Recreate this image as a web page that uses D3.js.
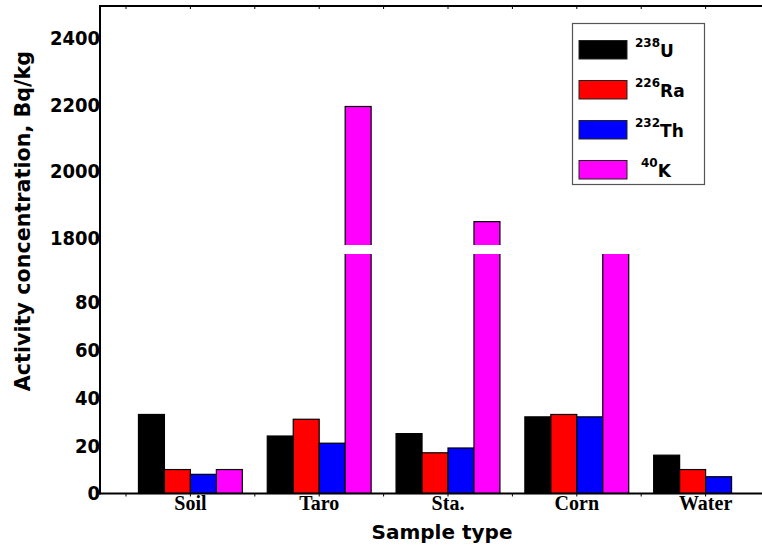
<!DOCTYPE html>
<html>
<head>
<meta charset="utf-8">
<script src="https://cdn.jsdelivr.net/npm/d3@7"></script>
<style>
  body { margin: 0; background: #fff; }
  svg { display: block; }
</style>
</head>
<body>
<svg id="chart" width="762" height="551"></svg>
<script>
// sample groups and isotope series
const categories = ["Soil", "Taro", "Sta.", "Corn", "Water"];
const isoMass = ["238", "226", "232", "40"];
const isoName = ["U", "Ra", "Th", "K"];
const u238 = [33, 24, 25, 32, 16];
const ra226 = [10, 31, 17, 33, 10];
const th232 = [8, 21, 19, 32, 7];
const k40 = [10, 2195, 1850, 1700, null];
const lowTicks = [0, 20, 40, 60, 80];
const highTicks = [1800, 2000, 2200, 2400];

const colors = ["#000000", "#ff0000", "#0000ff", "#ff00ff"];
const seriesVals = [u238, ra226, th232, k40];

let svg = d3.select("#chart");

// axis box
const plotL = 100, plotR = 762, plotT = 6, plotB = 493.5;

// x scales
let x = d3.scaleBand().domain(categories).range([126, 770]);
let xSub = d3.scaleBand().domain(d3.range(4)).range([0, x.bandwidth()]).paddingOuter(0.48);

// broken y axis: lower part 0-100, upper part 1780-2500
let yLow = d3.scaleLinear().domain([0, 100]).range([plotB, 254]);
let yHigh = d3.scaleLinear().domain([1780, 2500]).range([245, plotT - 1.3]);

let defs = svg.append("defs");
defs.append("clipPath").attr("id", "clipLow")
  .append("rect").attr("x", 0).attr("y", 254).attr("width", 762).attr("height", plotB - 254 + 1);
defs.append("clipPath").attr("id", "clipHigh")
  .append("rect").attr("x", 0).attr("y", 0).attr("width", 762).attr("height", 245);

// flatten bars
let bars = [];
categories.forEach((c, i) => {
  seriesVals.forEach((s, j) => {
    if (s[i] != null) bars.push({ cat: c, k: j, v: s[i] });
  });
});

let gLow = svg.append("g").attr("clip-path", "url(#clipLow)");
gLow.selectAll("rect")
  .data(bars)
  .enter()
  .append("rect")
  .attr("x", d => x(d.cat) + xSub(d.k))
  .attr("width", xSub.bandwidth())
  .attr("y", d => d.v > 100 ? 240 : yLow(d.v))
  .attr("height", d => d.v > 100 ? plotB - 240 : plotB - yLow(d.v))
  .attr("fill", d => colors[d.k])
  .attr("stroke", "#000")
  .attr("stroke-width", 1.2);

let gHigh = svg.append("g").attr("clip-path", "url(#clipHigh)");
gHigh.selectAll("rect")
  .data(bars.filter(d => d.v > 1780))
  .enter()
  .append("rect")
  .attr("x", d => x(d.cat) + xSub(d.k))
  .attr("width", xSub.bandwidth())
  .attr("y", d => yHigh(d.v))
  .attr("height", d => 260 - yHigh(d.v))
  .attr("fill", d => colors[d.k])
  .attr("stroke", "#000")
  .attr("stroke-width", 1.2);

// axis lines
let axisG = svg.append("g").attr("stroke", "#000").attr("stroke-width", 2);
axisG.append("line").attr("x1", plotL).attr("x2", plotL).attr("y1", plotT - 1).attr("y2", plotB + 1);
axisG.append("line").attr("x1", plotL - 1).attr("x2", 762).attr("y1", plotT).attr("y2", plotT);
axisG.append("line").attr("x1", plotL - 1).attr("x2", 762).attr("y1", plotB).attr("y2", plotB);

// minor ticks at band edges and centres (top and bottom)
let tickPos = [];
categories.forEach(c => { tickPos.push(x(c)); tickPos.push(x(c) + x.bandwidth() / 2); });
svg.append("g").selectAll("line")
  .data(tickPos).enter().append("line")
  .attr("x1", d => d).attr("x2", d => d)
  .attr("y1", plotB).attr("y2", plotB + 3)
  .attr("stroke", "#000").attr("stroke-width", 1);
svg.append("g").selectAll("line")
  .data(tickPos).enter().append("line")
  .attr("x1", d => d).attr("x2", d => d)
  .attr("y1", plotT).attr("y2", plotT + 3)
  .attr("stroke", "#000").attr("stroke-width", 1);

// y tick labels
const tickFont = "'DejaVu Sans Condensed', 'DejaVu Sans', sans-serif";
let yAxLow = svg.append("g").attr("transform", `translate(${plotL},0)`)
  .call(d3.axisLeft(yLow).tickValues(lowTicks).tickFormat(d3.format("d")).tickSize(0).tickPadding(0));
let yAxHigh = svg.append("g").attr("transform", `translate(${plotL},0)`)
  .call(d3.axisLeft(yHigh).tickValues(highTicks).tickFormat(d3.format("d")).tickSize(0).tickPadding(0));
[yAxLow, yAxHigh].forEach(g => {
  g.select(".domain").remove();
  g.selectAll("text")
    .style("font-family", tickFont)
    .style("font-weight", "bold")
    .style("font-size", "20px")
    .attr("fill", "#000");
});

// category labels
let xAx = svg.append("g").attr("transform", `translate(0,${plotB})`)
  .call(d3.axisBottom(x).tickSize(0).tickPadding(2));
xAx.select(".domain").remove();
xAx.selectAll("text")
  .attr("dy", "0.71em")
  .style("font-family", "'Liberation Serif', 'Times New Roman', serif")
  .style("font-weight", "bold")
  .style("font-size", "20px")
  .attr("fill", "#000");

// axis titles
svg.append("text")
  .attr("x", 442).attr("y", 539)
  .attr("text-anchor", "middle")
  .style("font-family", "'DejaVu Sans', sans-serif")
  .style("font-weight", "bold")
  .style("font-size", "20px")
  .text("Sample type");

svg.append("text")
  .attr("transform", "translate(30,221) rotate(-90)")
  .attr("text-anchor", "middle")
  .style("font-family", "'DejaVu Sans', sans-serif")
  .style("font-weight", "bold")
  .style("font-size", "20.7px")
  .text("Activity concentration, Bq/kg");

// legend
let leg = svg.append("g");
leg.append("rect")
  .attr("x", 572.5).attr("y", 23.5).attr("width", 132).attr("height", 161)
  .attr("fill", "#fff").attr("stroke", "#555").attr("stroke-width", 1.2);
let legY = d3.scaleBand().domain(d3.range(4)).range([30, 190]);
let items = leg.selectAll("g.item")
  .data(d3.range(4)).enter().append("g")
  .attr("transform", d => `translate(0,${legY(d)})`);
items.append("rect")
  .attr("x", 579).attr("y", 10.5).attr("width", 48).attr("height", 18.5)
  .attr("fill", d => colors[d]).attr("stroke", "#222").attr("stroke-width", 1);
let lt = items.append("text")
  .attr("x", d => d === 3 ? 641 : 635).attr("y", 27)
  .style("font-family", "'DejaVu Sans', sans-serif")
  .style("font-weight", "bold")
  .attr("fill", "#000");
lt.append("tspan").attr("dy", -10).style("font-size", "12px").text(d => isoMass[d]);
lt.append("tspan").attr("dy", 10).style("font-size", "17px").text(d => isoName[d]);
</script>
</body>
</html>
